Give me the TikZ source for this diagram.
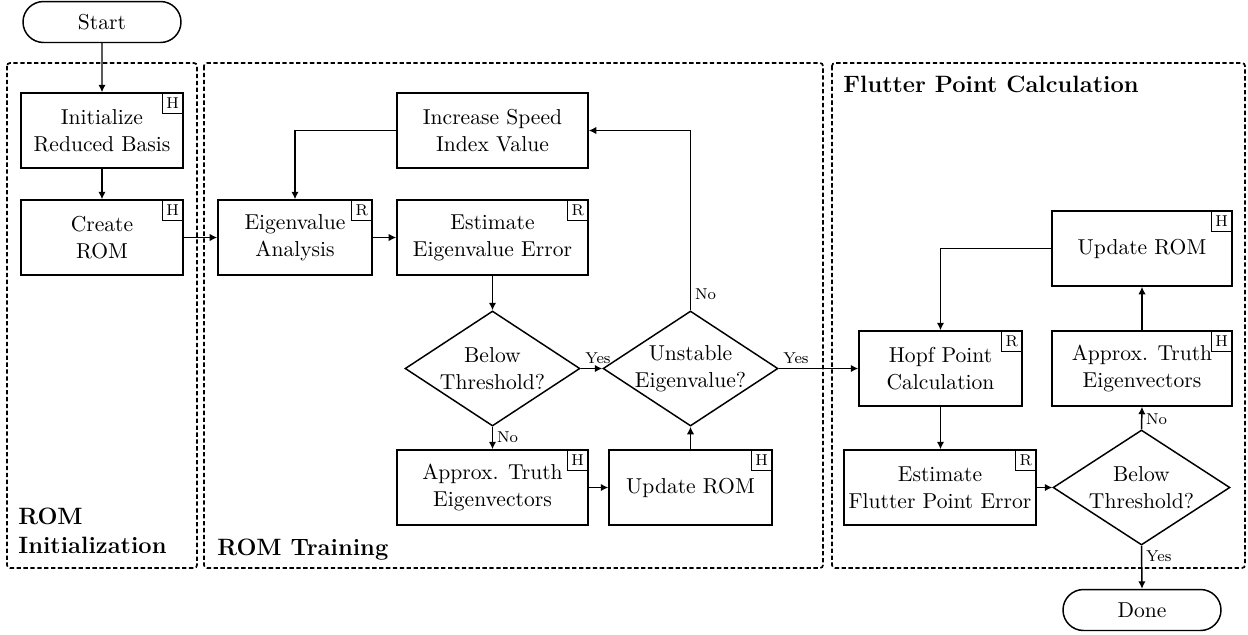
\documentclass[tikz,border=0pt]{standalone}
\usetikzlibrary{shapes.geometric,shapes.misc,arrows.meta,calc}

\tikzset{
  base/.style={font=\fontsize{10.95}{13.6}\selectfont, align=center, line width=0.75pt, draw},
  proc/.style={base, rectangle, minimum height=38.1pt, inner sep=1pt},
  term/.style={base, rounded rectangle, minimum width=82.2pt, minimum height=20.8pt, inner sep=1pt},
  decide/.style={base, diamond, aspect=1.52, inner xsep=-2pt, inner ysep=0pt,
                 minimum width=88.8pt, minimum height=58.4pt},
  tag/.style={draw, line width=0.5pt, rectangle, font=\fontsize{8}{9.5}\selectfont,
              minimum size=10.7pt, inner sep=0pt, anchor=north east},
  region/.style={line width=0.85pt, dash pattern=on 2.2pt off 1.3pt, rounded corners=1.5pt},
  regtitle/.style={font=\fontsize{12}{14.5}\selectfont\bfseries, align=left, inner sep=0pt, anchor=north west},
  lbl/.style={font=\fontsize{8}{9.5}\selectfont, inner sep=2pt},
  flow/.style={line width=0.75pt, -{Latex[length=3.8pt,width=3.8pt]}}
}

\begin{document}
\begin{tikzpicture}[x=0.5076pt, y=-0.5076pt]
  \useasboundingbox (0,0) rectangle (1248,634);

  % stage frames
  \draw[region] (7,63) rectangle (197,568);
  \draw[region] (204,63) rectangle (823,568);
  \draw[region] (832,63) rectangle (1245,568);
  \node[regtitle] (t1) at (18,508) {ROM\\Initialization};
  \node[regtitle] (t2) at (217,539) {ROM Training};
  \node[regtitle] (t3) at (843,76) {Flutter Point Calculation};

  % ROM initialization
  \node[term] (start) at (102,22) {Start};
  \node[proc, minimum width=82.2pt] (init) at (102,130.5) {Initialize\\Reduced Basis};
  \node[proc, minimum width=82.2pt] (create) at (102,237.5) {Create\\ROM};

  % ROM training
  \node[proc, minimum width=78.2pt] (eig) at (295,237.5) {Eigenvalue\\Analysis};
  \node[proc, minimum width=97pt] (esteig) at (492.5,237.5) {Estimate\\Eigenvalue Error};
  \node[proc, minimum width=97pt] (incr) at (492.5,130.5) {Increase Speed\\Index Value};
  \node[decide] (belowT) at (492.5,368.5) {Below\\Threshold?};
  \node[decide] (unst) at (690.5,368.5) {Unstable\\Eigenvalue?};
  \node[proc, minimum width=97pt] (apxT) at (492.5,487.5) {Approx. Truth\\Eigenvectors};
  \node[proc, minimum width=82.7pt] (updT) at (690.5,487.5) {Update ROM};

  % flutter point calculation
  \node[proc, minimum width=91.4pt] (updF) at (1142,248.5) {Update ROM};
  \node[proc, minimum width=82.7pt] (hopf) at (940.5,368.5) {Hopf Point\\Calculation};
  \node[proc, minimum width=91.4pt] (apxF) at (1142,368.5) {Approx. Truth\\Eigenvectors};
  \node[proc, minimum width=97.5pt] (estF) at (940,487.5) {Estimate\\Flutter Point Error};
  \node[decide, minimum width=89.8pt] (belowF) at (1141.5,487.5) {Below\\Threshold?};
  \node[term] (done) at (1142,610) {Done};

  % model tags
  \node[tag] (init-t) at (init.north east) {H};
  \node[tag] (create-t) at (create.north east) {H};
  \node[tag] (eig-t) at (eig.north east) {R};
  \node[tag] (esteig-t) at (esteig.north east) {R};
  \node[tag] (apxT-t) at (apxT.north east) {H};
  \node[tag] (updT-t) at (updT.north east) {H};
  \node[tag] (updF-t) at (updF.north east) {H};
  \node[tag] (hopf-t) at (hopf.north east) {R};
  \node[tag] (apxF-t) at (apxF.north east) {H};
  \node[tag] (estF-t) at (estF.north east) {R};

  % connectors
  \draw[flow] (start) -- (init);
  \draw[flow] (init) -- (create);
  \draw[flow] (create) -- (eig);
  \draw[flow] (eig) -- (esteig);
  \draw[flow] (esteig) -- (belowT);
  \draw[flow] (belowT.east) -- node[lbl, pos=0, anchor=south west] {Yes} (unst.west);
  \draw[flow] (belowT.south) -- node[lbl, pos=0, anchor=north west] {No} (apxT.north);
  \draw[flow] (apxT) -- (updT);
  \draw[flow] (updT) -- (unst.south);
  \draw[flow] (unst.north) |- node[lbl, pos=0, anchor=south west, yshift=3pt] {No} (incr.east);
  \draw[flow] (incr.west) -| (eig.north);
  \draw[flow] (unst.east) -- node[lbl, pos=0, anchor=south west] {Yes} (hopf.west);
  \draw[flow] (hopf.south) -- (hopf.south |- estF.north);
  \draw[flow] (estF.east) -- (belowF.west);
  \draw[flow] (belowF.north) -- node[lbl, pos=0, anchor=south west] {No} (apxF.south);
  \draw[flow] (apxF) -- (updF);
  \draw[flow] (updF.west) -| (hopf.north);
  \draw[flow] (belowF.south) -- node[lbl, pos=0, anchor=north west] {Yes} (done.north);
\end{tikzpicture}
\end{document}
